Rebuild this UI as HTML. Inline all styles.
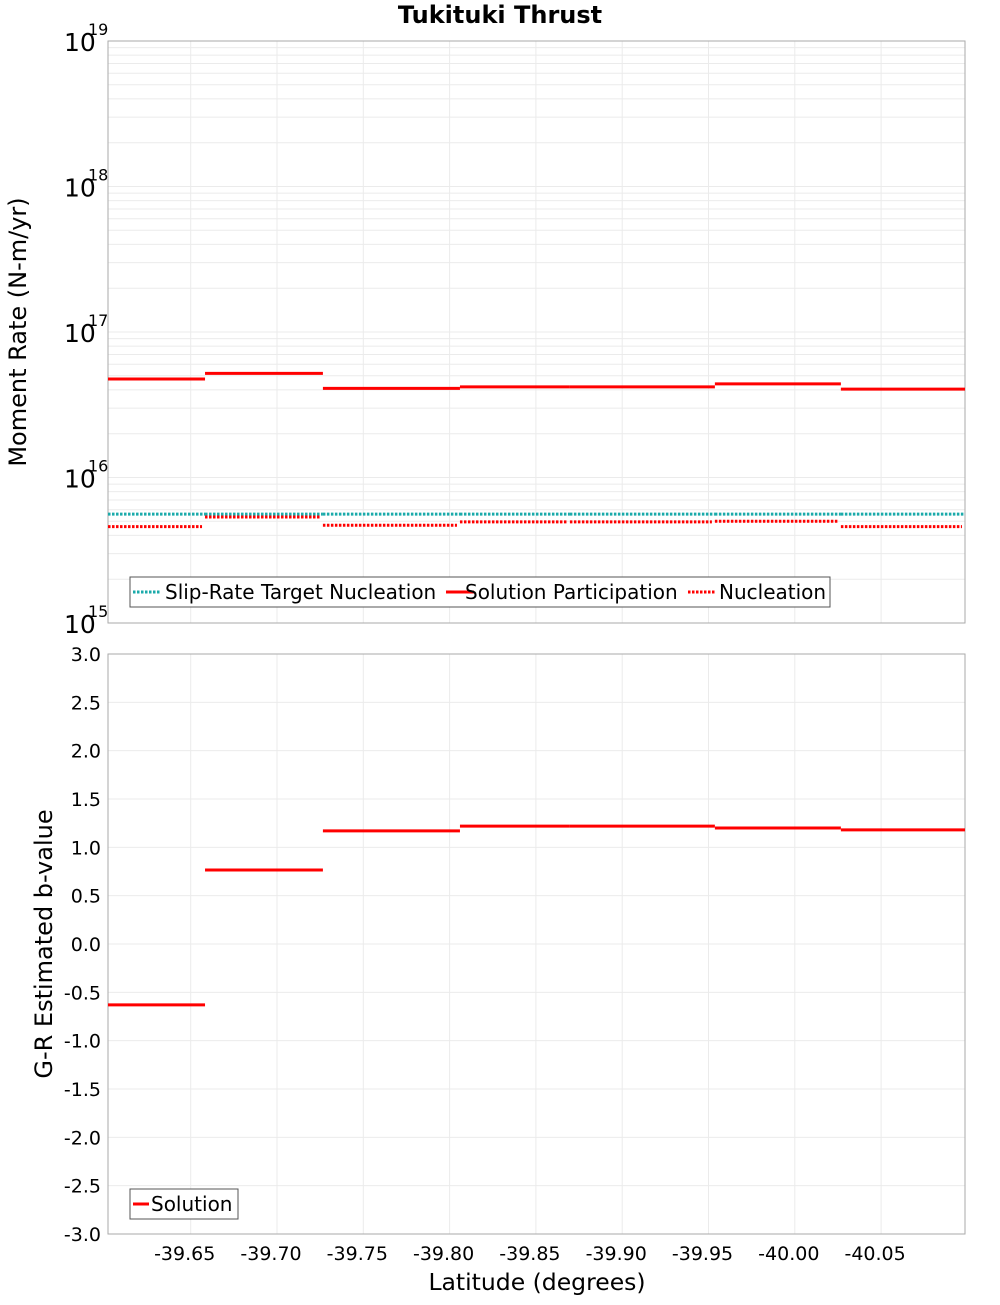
<!DOCTYPE html>
<html><head><meta charset="utf-8"><style>
body{margin:0;background:#fff;}
svg text{font-family:"DejaVu Sans","Liberation Sans",sans-serif;}
</style></head><body>
<svg id="c" width="1000" height="1300" xmlns="http://www.w3.org/2000/svg"></svg>
<script>
const boundaries=[-39.6021,-39.6583,-39.7266,-39.8060,-39.8697,-39.9537,-40.0267,-40.0986];
const participation=[4.75e16,5.2e16,4.1e16,4.2e16,4.2e16,4.4e16,4.05e16];
const targetNucleation=[5.6e15,5.6e15,5.6e15,5.6e15,5.6e15,5.6e15,5.6e15];
const nucleation=[4.6e15,5.35e15,4.7e15,4.95e15,4.95e15,5.0e15,4.6e15];
const bValues=[-0.63,0.765,1.17,1.22,1.22,1.20,1.18];
const xTicks=[-39.65,-39.70,-39.75,-39.80,-39.85,-39.90,-39.95,-40.00,-40.05];
const logTicks=[15,16,17,18,19];
const bTicks=[3.0,2.5,2.0,1.5,1.0,0.5,0.0,-0.5,-1.0,-1.5,-2.0,-2.5,-3.0];

const svg=document.getElementById('c');const NS='http://www.w3.org/2000/svg';
function mk(t,a,p){const e=document.createElementNS(NS,t);for(const k in a)e.setAttribute(k,a[k]);(p||svg).appendChild(e);return e;}
const L=108,R=965,T1=41,B1=623,T2=654,B2=1234;
const x=v=>190.7+(-39.65-v)/0.05*86.3;
const yl=v=>B1-(Math.log10(v)-15)*(B1-T1)/4;
const yb=v=>T2+(3-v)*(B2-T2)/6;

let p1=mk('rect',{x:L,y:T1,width:R-L,height:B1-T1,fill:'#fff',stroke:'none'});

let p2=mk('rect',{x:L,y:T2,width:R-L,height:B2-T2,fill:'#fff',stroke:'none'});

const g=mk('g',{stroke:'#ebebeb','stroke-width':1});

xTicks.forEach(t=>{const xx=x(t);mk('line',{x1:xx,x2:xx,y1:T1,y2:B1},g);mk('line',{x1:xx,x2:xx,y1:T2,y2:B2},g);});
for(let d=15;d<19;d++)for(let m=1;m<10;m++){const yy=yl(m*Math.pow(10,d));mk('line',{x1:L,x2:R,y1:yy,y2:yy},g);}
bTicks.forEach(t=>{const yy=yb(t);mk('line',{x1:L,x2:R,y1:yy,y2:yy},g);});
mk('rect',{x:L,y:T1,width:R-L,height:B1-T1,fill:'none',stroke:'#aaa'});
mk('rect',{x:L,y:T2,width:R-L,height:B2-T2,fill:'none',stroke:'#aaa'});

function seg(vals,yf,color,dash,name,trim){
 vals.forEach((v,i)=>{const yy=yf(v);const l=mk('line',{x1:x(boundaries[i]),x2:x(boundaries[i+1])-(trim||0),y1:yy,y2:yy,stroke:color,'stroke-width':3});
 if(dash)l.setAttribute('stroke-dasharray',dash);
 });
}
seg(targetNucleation,yl,'#1aaaaa','2.5,1.5','slip-rate-target-nucleation');
seg(nucleation,yl,'#ff0000','2.5,1.5','nucleation',3);
seg(participation,yl,'#ff0000',null,'solution-participation');
seg(bValues,yb,'#ff0000',null,'b-value');

logTicks.forEach(t=>{const yy=yl(Math.pow(10,t));const tx=mk('text',{x:64,y:yy+10,'font-size':25});tx.textContent='10';
 
 const s=mk('text',{x:88,y:yy-6,'font-size':16});s.textContent=String(t);
 });
bTicks.forEach(t=>{const tx=mk('text',{x:101,y:yb(t)+7,'font-size':19,'text-anchor':'end'});tx.textContent=t.toFixed(1);
 });
xTicks.forEach(t=>{const tx=mk('text',{x:x(t)-6,y:1260,'font-size':19,'text-anchor':'middle'});tx.textContent=t.toFixed(2);
 });

function txt(s,a,name){const t=mk('text',a);t.textContent=s;return t;}
txt('Tukituki Thrust',{x:500,y:23,'font-size':24,'font-weight':'bold','text-anchor':'middle'},'chart-title');
txt('Latitude (degrees)',{x:537,y:1290,'font-size':23.5,'text-anchor':'middle'},'x-axis-title');
txt('Moment Rate (N-m/yr)',{x:0,y:0,'font-size':24,'text-anchor':'middle',transform:'translate(26,332) rotate(-90)'},'y-axis-title-moment');
txt('G-R Estimated b-value',{x:0,y:0,'font-size':24,'text-anchor':'middle',transform:'translate(52,944) rotate(-90)'},'y-axis-title-b-value');

const lg=mk('g',{});
mk('rect',{x:130,y:577,width:700,height:30,fill:'#fff',stroke:'#555'},lg);
[[133,'#1aaaaa','2.5,1.5','Slip-Rate Target Nucleation',165],[446,'#ff0000',null,'Solution Participation',465],[688,'#ff0000','2.5,1.5','Nucleation',719]].forEach(e=>{
 const l=mk('line',{x1:e[0],x2:e[0]+28,y1:592,y2:592,stroke:e[1],'stroke-width':3},lg);if(e[2])l.setAttribute('stroke-dasharray',e[2]);
 const t=mk('text',{x:e[4],y:599,'font-size':20},lg);t.textContent=e[3];
 });
const lg2=mk('g',{});
mk('rect',{x:130,y:1189,width:108,height:30,fill:'#fff',stroke:'#555'},lg2);
mk('line',{x1:133,x2:149,y1:1204,y2:1204,stroke:'#ff0000','stroke-width':3},lg2);
const t2=mk('text',{x:151,y:1211,'font-size':20},lg2);t2.textContent='Solution';

</script>
</body></html>
